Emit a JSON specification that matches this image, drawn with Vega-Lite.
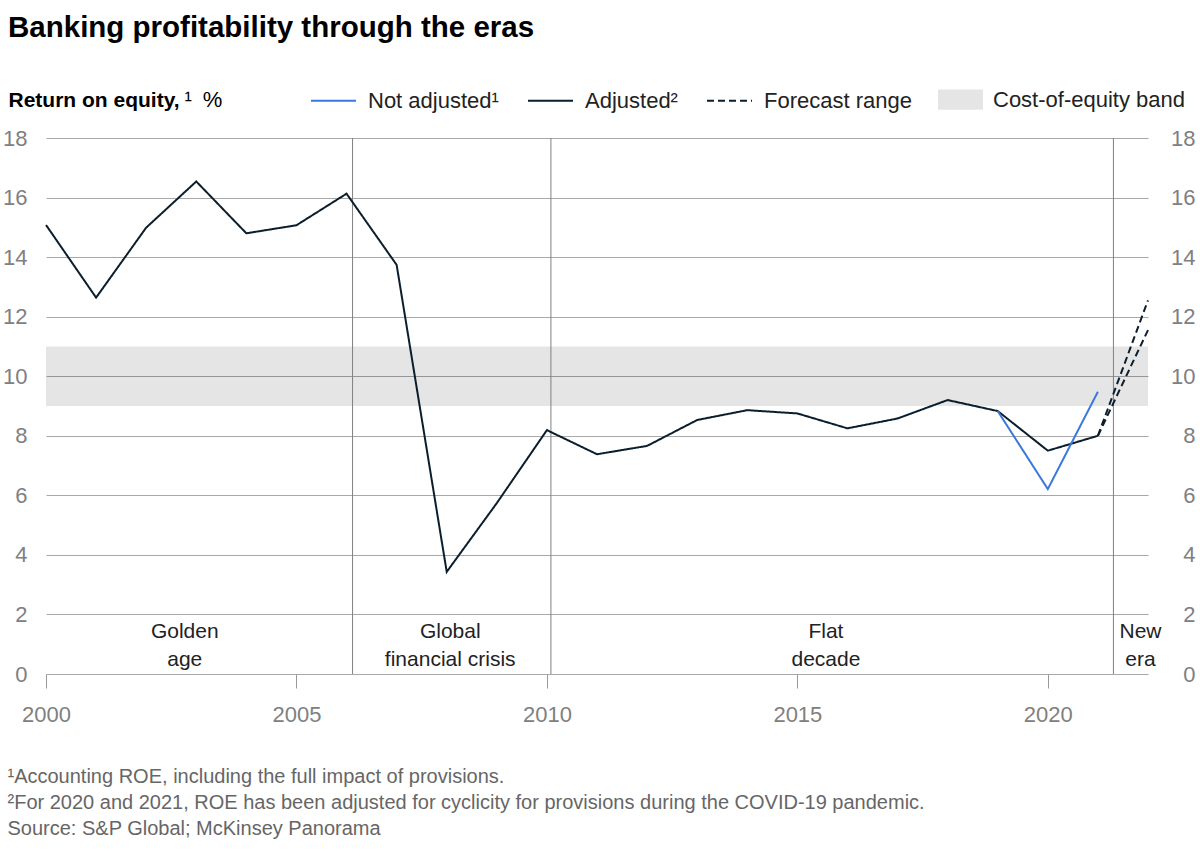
{
  "$schema": "https://vega.github.io/schema/vega-lite/v6.json",
  "width": 1102,
  "height": 536,
  "autosize": {"type": "none"},
  "padding": {"left": 46, "top": 138, "right": 52, "bottom": 186},
  "background": "white",
  "title": {
    "text": "Banking profitability through the eras",
    "anchor": "start",
    "frame": "group",
    "dx": -38,
    "offset": 34,
    "fontSize": 29.5,
    "font": "Liberation Sans",
    "fontWeight": "bold",
    "color": "#000000"
  },
  "config": {
    "view": {"stroke": null},
    "font": "Liberation Sans"
  },
  "datasets": {
    "band": [
      {"x0": 2000, "x1": 2022, "lo": 9, "hi": 11, "band": "Cost-of-equity band"}
    ],
    "eras": [
      {"year": 2006.12},
      {"year": 2010.08},
      {"year": 2021.31}
    ],
    "roe": [
      {"year": 2000, "value": 15.08, "series": "Adjusted²", "id": "adj"},
      {"year": 2001, "value": 12.64, "series": "Adjusted²", "id": "adj"},
      {"year": 2002, "value": 14.99, "series": "Adjusted²", "id": "adj"},
      {"year": 2003, "value": 16.54, "series": "Adjusted²", "id": "adj"},
      {"year": 2004, "value": 14.8, "series": "Adjusted²", "id": "adj"},
      {"year": 2005, "value": 15.07, "series": "Adjusted²", "id": "adj"},
      {"year": 2006, "value": 16.13, "series": "Adjusted²", "id": "adj"},
      {"year": 2007, "value": 13.74, "series": "Adjusted²", "id": "adj"},
      {"year": 2008, "value": 3.43, "series": "Adjusted²", "id": "adj"},
      {"year": 2009, "value": 5.74, "series": "Adjusted²", "id": "adj"},
      {"year": 2010, "value": 8.19, "series": "Adjusted²", "id": "adj"},
      {"year": 2011, "value": 7.38, "series": "Adjusted²", "id": "adj"},
      {"year": 2012, "value": 7.66, "series": "Adjusted²", "id": "adj"},
      {"year": 2013, "value": 8.53, "series": "Adjusted²", "id": "adj"},
      {"year": 2014, "value": 8.86, "series": "Adjusted²", "id": "adj"},
      {"year": 2015, "value": 8.75, "series": "Adjusted²", "id": "adj"},
      {"year": 2016, "value": 8.25, "series": "Adjusted²", "id": "adj"},
      {"year": 2017, "value": 8.58, "series": "Adjusted²", "id": "adj"},
      {"year": 2018, "value": 9.2, "series": "Adjusted²", "id": "adj"},
      {"year": 2019, "value": 8.83, "series": "Adjusted²", "id": "adj"},
      {"year": 2020, "value": 7.5, "series": "Adjusted²", "id": "adj"},
      {"year": 2021, "value": 8.0, "series": "Adjusted²", "id": "adj"},
      {"year": 2019, "value": 8.83, "series": "Not adjusted¹", "id": "na"},
      {"year": 2020, "value": 6.21, "series": "Not adjusted¹", "id": "na"},
      {"year": 2021, "value": 9.48, "series": "Not adjusted¹", "id": "na"},
      {"year": 2021, "value": 8.0, "series": "Forecast range", "id": "hi"},
      {"year": 2022, "value": 12.55, "series": "Forecast range", "id": "hi"},
      {"year": 2021, "value": 8.0, "series": "Forecast range", "id": "lo"},
      {"year": 2022, "value": 11.55, "series": "Forecast range", "id": "lo"}
    ],
    "labels": [
      {"year": 2002.77, "value": 1.4, "label": "Golden\nage"},
      {"year": 2008.07, "value": 1.4, "label": "Global\nfinancial crisis"},
      {"year": 2015.57, "value": 1.4, "label": "Flat\ndecade"},
      {"year": 2021.85, "value": 1.4, "label": "New\nera"}
    ]
  },
  "layer": [
    {
      "data": {"name": "band"},
      "mark": {"type": "rect", "opacity": 0.1},
      "encoding": {
        "x": {
          "field": "x0",
          "type": "quantitative",
          "scale": {"domain": [2000, 2022], "nice": false, "zero": false},
          "axis": {
            "orient": "bottom",
            "values": [2000, 2005, 2010, 2015, 2020],
            "format": "d",
            "grid": false,
            "domain": false,
            "ticks": true,
            "tickColor": "#999999",
            "tickSize": 14,
            "labelFlush": false,
            "labelFontSize": 22,
            "labelColor": "#808080",
            "labelPadding": 16,
            "title": [
              "¹Accounting ROE, including the full impact of provisions.",
              "²For 2020 and 2021, ROE has been adjusted for cyclicity for provisions during the COVID-19 pandemic.",
              "\u00a0Source: S&P Global; McKinsey Panorama"
            ],
            "titleFontSize": 20,
            "titleColor": "#666666",
            "titleFontWeight": "normal",
            "titleAnchor": "start",
            "titleAlign": "left",
            "titleBaseline": "alphabetic",
            "titleX": -39,
            "titleY": 108,
            "titleLineHeight": 26
          }
        },
        "x2": {"field": "x1"},
        "y": {
          "field": "lo",
          "type": "quantitative",
          "scale": {"domain": [0, 18], "nice": false},
          "axis": {
            "orient": "left",
            "values": [0, 2, 4, 6, 8, 10, 12, 14, 16, 18],
            "grid": true,
            "gridColor": "#a8a8a8",
            "gridWidth": 1,
            "domain": false,
            "ticks": false,
            "labelFontSize": 22,
            "labelColor": "#808080",
            "labelPadding": 19,
            "title": "Return on equity,",
            "titleFontSize": 21,
            "titleFontWeight": "bold",
            "titleColor": "#000000",
            "titleAngle": 0,
            "titleAlign": "left",
            "titleBaseline": "alphabetic",
            "titleX": -38,
            "titleY": -32
          }
        },
        "y2": {"field": "hi"},
        "fill": {
          "field": "band",
          "type": "nominal",
          "scale": {"range": ["#000000"]},
          "legend": {
            "orient": "none",
            "legendX": 892,
            "legendY": -61,
            "title": null,
            "padding": 0,
            "symbolType": "M-1,-0.45H1V0.45H-1Z",
            "symbolSize": 2025,
            "symbolStrokeWidth": 0,
            "labelOffset": 10,
            "labelLimit": 0,
            "labelFontSize": 22,
            "labelColor": "#222222"
          }
        }
      }
    },
    {
      "data": {"name": "eras"},
      "mark": {"type": "rule", "color": "#808080", "strokeWidth": 1},
      "encoding": {
        "x": {"field": "year", "type": "quantitative"}
      }
    },
    {
      "data": {"name": "roe"},
      "mark": {"type": "line", "strokeWidth": 2},
      "encoding": {
        "x": {"field": "year", "type": "quantitative"},
        "y": {
          "field": "value",
          "type": "quantitative",
          "scale": {"domain": [0, 18], "nice": false},
          "axis": {
            "orient": "right",
            "values": [0, 2, 4, 6, 8, 10, 12, 14, 16, 18],
            "grid": false,
            "domain": false,
            "ticks": false,
            "labelFontSize": 22,
            "labelColor": "#808080",
            "labelAlign": "right",
            "labelPadding": 47,
            "title": "¹\u2002%",
            "titleFontSize": 22,
            "titleFontWeight": "normal",
            "titleColor": "#000000",
            "titleAngle": 0,
            "titleAlign": "left",
            "titleBaseline": "alphabetic",
            "titleX": -964,
            "titleY": -32
          }
        },
        "stroke": {
          "field": "series",
          "type": "nominal",
          "scale": {
            "domain": ["Not adjusted¹", "Adjusted²", "Forecast range"],
            "range": ["#3a78dc", "#0b1e2d", "#0b1e2d"]
          },
          "legend": {
            "orient": "none",
            "legendX": 264,
            "legendY": -61,
            "direction": "horizontal",
            "title": null,
            "padding": 0,
            "columnPadding": 25,
            "symbolType": "M-1,0H1",
            "symbolSize": 2025,
            "symbolStrokeWidth": 2,
            "labelOffset": 11,
            "labelLimit": 0,
            "labelFontSize": 22,
            "labelColor": "#222222"
          }
        },
        "strokeDash": {
          "field": "series",
          "type": "nominal",
          "scale": {
            "domain": ["Not adjusted¹", "Adjusted²", "Forecast range"],
            "range": [[1, 0], [1, 0], [7, 4]]
          },
          "legend": {
            "orient": "none",
            "legendX": 264,
            "legendY": -61,
            "direction": "horizontal",
            "title": null,
            "padding": 0,
            "columnPadding": 25,
            "symbolType": "M-1,0H1",
            "symbolSize": 2025,
            "symbolStrokeWidth": 2,
            "labelOffset": 11,
            "labelLimit": 0,
            "labelFontSize": 22,
            "labelColor": "#222222"
          }
        },
        "detail": {"field": "id", "type": "nominal"}
      }
    },
    {
      "data": {"name": "labels"},
      "mark": {
        "type": "text",
        "fontSize": 21,
        "color": "#222222",
        "align": "center",
        "baseline": "middle",
        "lineBreak": "\n",
        "lineHeight": 28
      },
      "encoding": {
        "x": {"field": "year", "type": "quantitative"},
        "y": {"field": "value", "type": "quantitative", "scale": {"domain": [0, 18], "nice": false}, "axis": null},
        "text": {"field": "label"}
      }
    }
  ],
  "resolve": {"axis": {"y": "independent"}}
}
